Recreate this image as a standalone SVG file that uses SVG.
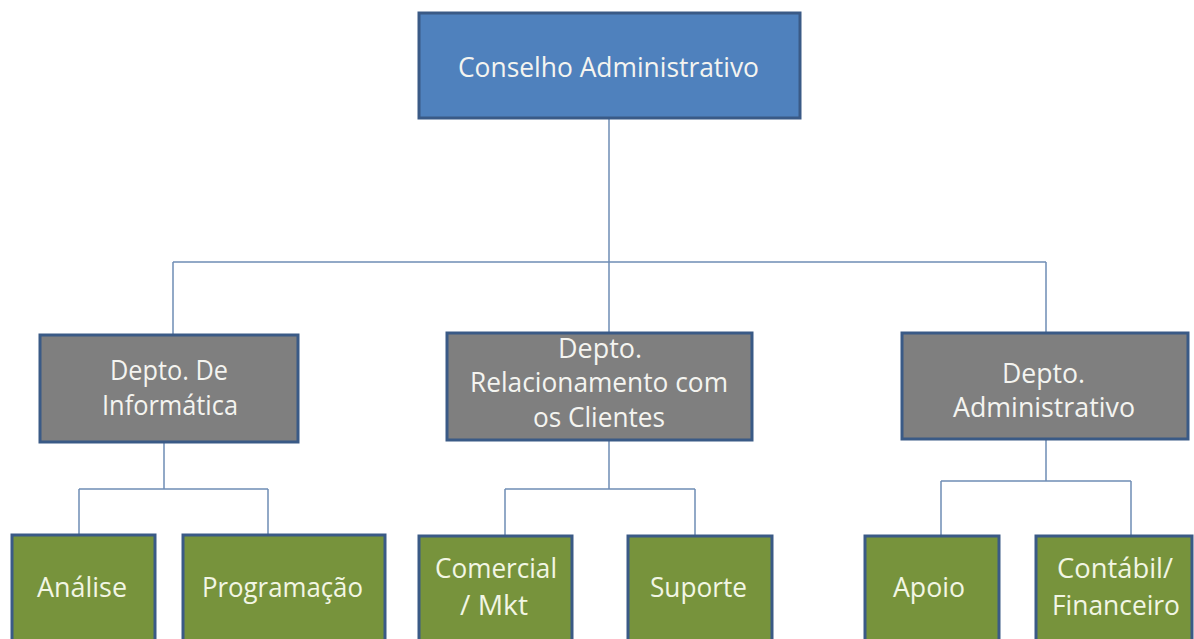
<svg xmlns="http://www.w3.org/2000/svg" width="1194" height="639" viewBox="0 0 1194 639">
<style>
.box{stroke:#3A5A86;stroke-width:3}
.blue{fill:#4F81BD}
.gray{fill:#7F7F7F}
.green{fill:#77933C}
.t{font-family:"Open Sans","Noto Sans",sans-serif;font-size:27.5px;fill:#F4F4F0;text-anchor:middle}
.tg{fill:#F2F6E4}
.c{fill:none;stroke:#6F8DB5;stroke-width:1.5}
</style>
<rect width="1194" height="639" fill="#FFFFFF"/>
<g id="connectors">
<path class="c" d="M609 118 V262 M173 262 H1046 M173 262 V335 M609 262 V333 M1046 262 V333"/>
<path class="c" d="M164 442 V489 M79 489 H268 M79 489 V535 M268 489 V535"/>
<path class="c" d="M609 440 V489 M505 489 H695 M505 489 V536 M695 489 V536"/>
<path class="c" d="M1046 439 V481 M941 481 H1131 M941 481 V536 M1131 481 V536"/>
</g>
<g id="conselho">
<rect class="box blue" x="419" y="13" width="381" height="105"/>
<text class="t" x="608.5" y="77" textLength="301" lengthAdjust="spacingAndGlyphs">Conselho Administrativo</text>
</g>
<g id="depto-informatica">
<rect class="box gray" x="40" y="335" width="258" height="107"/>
<text class="t" x="169" y="380" textLength="118" lengthAdjust="spacingAndGlyphs">Depto. De</text>
<text class="t" x="170" y="415" textLength="136" lengthAdjust="spacingAndGlyphs">Informática</text>
</g>
<g id="depto-relacionamento">
<rect class="box gray" x="447" y="333" width="305" height="107"/>
<text class="t" x="600" y="358" textLength="84" lengthAdjust="spacingAndGlyphs">Depto.</text>
<text class="t" x="599" y="392" textLength="258" lengthAdjust="spacingAndGlyphs">Relacionamento com</text>
<text class="t" x="599" y="427" textLength="132" lengthAdjust="spacingAndGlyphs">os Clientes</text>
</g>
<g id="depto-administrativo">
<rect class="box gray" x="902" y="333" width="286" height="106"/>
<text class="t" x="1043.5" y="383" textLength="83" lengthAdjust="spacingAndGlyphs">Depto.</text>
<text class="t" x="1044" y="417" textLength="182" lengthAdjust="spacingAndGlyphs">Administrativo</text>
</g>
<g id="analise">
<rect class="box green" x="12" y="535" width="143" height="110"/>
<text class="t tg" x="82" y="597" textLength="90" lengthAdjust="spacingAndGlyphs">Análise</text>
</g>
<g id="programacao">
<rect class="box green" x="183" y="535" width="202" height="110"/>
<text class="t tg" x="282.5" y="597" textLength="161" lengthAdjust="spacingAndGlyphs">Programação</text>
</g>
<g id="comercial">
<rect class="box green" x="419" y="536" width="153" height="110"/>
<text class="t tg" x="496" y="578" textLength="122" lengthAdjust="spacingAndGlyphs">Comercial</text>
<text class="t tg" x="494" y="615" textLength="68" lengthAdjust="spacingAndGlyphs">/ Mkt</text>
</g>
<g id="suporte">
<rect class="box green" x="628" y="536" width="144" height="110"/>
<text class="t tg" x="698.5" y="597" textLength="97" lengthAdjust="spacingAndGlyphs">Suporte</text>
</g>
<g id="apoio">
<rect class="box green" x="865" y="536" width="134" height="110"/>
<text class="t tg" x="929" y="597" textLength="72" lengthAdjust="spacingAndGlyphs">Apoio</text>
</g>
<g id="contabil">
<rect class="box green" x="1036" y="536" width="156" height="110"/>
<text class="t tg" x="1115" y="578" textLength="116" lengthAdjust="spacingAndGlyphs">Contábil/</text>
<text class="t tg" x="1116" y="615" textLength="128" lengthAdjust="spacingAndGlyphs">Financeiro</text>
</g>
</svg>
